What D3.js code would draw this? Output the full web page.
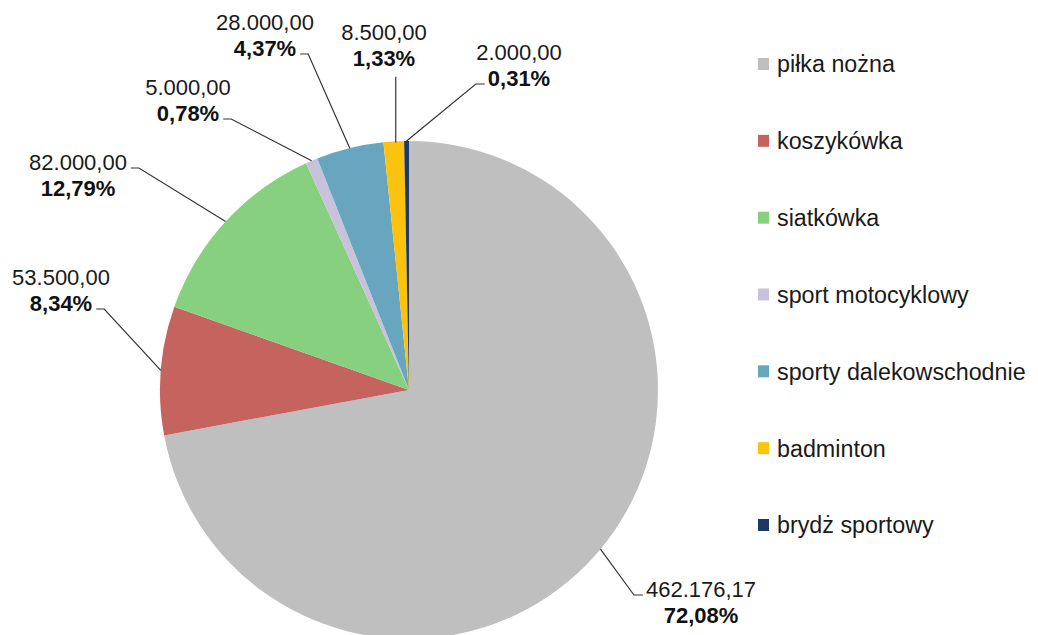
<!DOCTYPE html>
<html><head><meta charset="utf-8">
<script src="https://cdn.jsdelivr.net/npm/d3@7"></script>
<style>body{margin:0;background:#fff}svg{display:block}text{font-family:"Liberation Sans",Arial,sans-serif}</style>
</head><body>
<svg id="c" width="1038" height="635"></svg>
<script>
const categories = ["piłka nożna","koszykówka","siatkówka","sport motocyklowy","sporty dalekowschodnie","badminton","brydż sportowy"];
const values = [462176.17, 53500, 82000, 5000, 28000, 8500, 2000];
const colors = ["#bfbfbf","#c5635f","#86d07f","#c9c2dd","#68a6bf","#fbc30e","#1c3864"];

// label layout (text centre x, first line centre y, which line the leader attaches to, side)
const labelLayout = [
  {cx:701, y1:589, line:1, side:"left"},
  {cx:61,  y1:277, line:2, side:"right"},
  {cx:78,  y1:162, line:1, side:"right"},
  {cx:188, y1:87,  line:2, side:"right"},
  {cx:265, y1:22,  line:2, side:"right"},
  {cx:384, y1:32,  line:2, side:"bottom"},
  {cx:519, y1:52,  line:2, side:"left"}
];

const svg = d3.select("#c");
const cx = 409, cy = 390, R = 249;
const total = d3.sum(values);
const loc = d3.formatLocale({decimal:",", thousands:".", grouping:[3], currency:["",""]});
const fmtVal = loc.format(",.2f");
const fmtPct = v => loc.format(".2f")(v*100) + "%";

const data = categories.map((c,i)=>({name:c, value:values[i], color:colors[i], i}));
const pie = d3.pie().value(d=>d.value).sort(null);
const arcs = pie(data);
const arc = d3.arc().innerRadius(0).outerRadius(R);

const g = svg.append("g").attr("transform",`translate(${cx},${cy})`);
g.selectAll("path").data(arcs).join("path")
  .attr("d", arc).attr("fill", d=>d.data.color);

// labels
const lh = 26;
arcs.forEach((a,i)=>{
  const L = labelLayout[i];
  const t1 = svg.append("text").attr("x",L.cx).attr("y",L.y1).attr("dy","0.35em")
    .attr("text-anchor","middle").attr("font-size",22).attr("fill","#1a1a1a")
    .text(fmtVal(a.data.value));
  const t2 = svg.append("text").attr("x",L.cx).attr("y",L.y1+lh).attr("dy","0.35em")
    .attr("text-anchor","middle").attr("font-size",22).attr("font-weight","bold").attr("fill","#111")
    .text(fmtPct(a.data.value/total));
  const mid = (a.startAngle+a.endAngle)/2;
  const px = cx + R*Math.sin(mid), py = cy - R*Math.cos(mid);
  const tb = (L.line===1?t1:t2).node().getBBox();
  const ly = (L.line===1?L.y1:L.y1+lh) + 6;
  let pts;
  if (L.side==="bottom") {
    pts = [[px+2, tb.y+tb.height+6],[px+2, py+1]];
  } else if (L.side==="right") {
    const x0 = tb.x+tb.width+4;
    pts = [[x0,ly],[x0+8,ly],[px,py]];
  } else {
    const x0 = tb.x-3;
    pts = [[x0,ly],[x0-9,ly],[px,py]];
  }
  svg.append("path").attr("d", d3.line()(pts)).attr("fill","none")
    .attr("stroke","#333").attr("stroke-width",1.2);
});

// legend
const leg = svg.append("g");
const rowY = d3.scaleLinear().domain([0, categories.length-1]).range([64, 525]);
data.forEach((d,i)=>{
  const y = rowY(i);
  leg.append("rect").attr("x",758).attr("y",y-6).attr("width",11).attr("height",12).attr("fill",d.color);
  leg.append("text").attr("x",777).attr("y",y).attr("dy","0.36em").attr("font-size",23.3)
    .attr("fill","#1a1a1a").text(d.name);
});
</script>
</body></html>
